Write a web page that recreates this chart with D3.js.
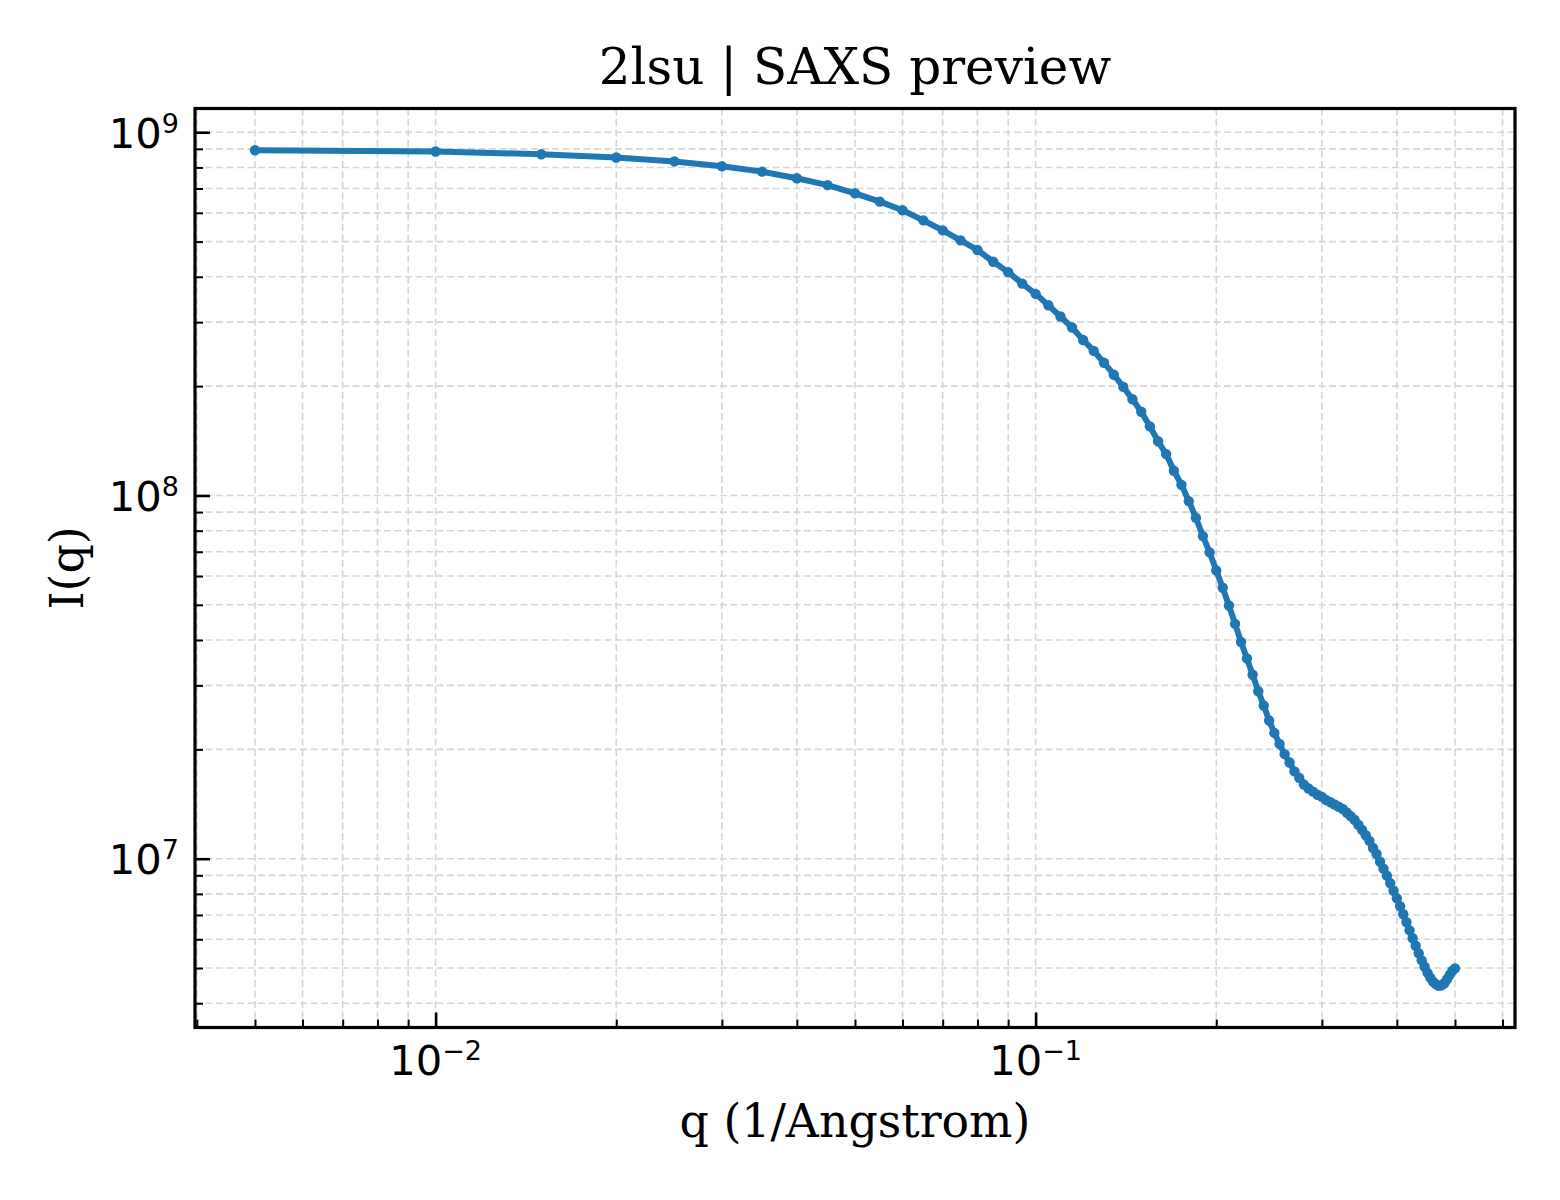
<!DOCTYPE html>
<html>
<head>
<meta charset="utf-8">
<script src="https://cdn.jsdelivr.net/npm/d3@7"></script>
<style>
  html, body { margin: 0; padding: 0; background: #fff; }
  svg { display: block; }
  .title, .axis-label { font-family: 'DejaVu Serif', serif; fill: #000; }
  .tick-label { font-family: 'DejaVu Sans', sans-serif; fill: #000; }
  .grid line { stroke: #d6d6d6; stroke-width: 1.6; stroke-dasharray: 7 3.5; }
  .ticks .domain { display: none; }
  .ticks line { stroke: #000; }
</style>
</head>
<body>
<svg id="chart" width="1560" height="1200"></svg>
<script>
/* ── DATA ───────────────────────────────────────────────────────────────────── */
const qValues = [
  0.005, 0.010, 0.015, 0.020, 0.025, 0.030, 0.035, 0.040, 0.045, 0.050,
  0.055, 0.060, 0.065, 0.070, 0.075, 0.080, 0.085, 0.090, 0.095, 0.100,
  0.105, 0.110, 0.115, 0.120, 0.125, 0.130, 0.135, 0.140, 0.145, 0.150,
  0.155, 0.160, 0.165, 0.170, 0.175, 0.180, 0.185, 0.190, 0.195, 0.200,
  0.205, 0.210, 0.215, 0.220, 0.225, 0.230, 0.235, 0.240, 0.245, 0.250,
  0.255, 0.260, 0.265, 0.270, 0.275, 0.280, 0.285, 0.290, 0.295, 0.300,
  0.305, 0.310, 0.315, 0.320, 0.325, 0.330, 0.335, 0.340, 0.345, 0.350,
  0.355, 0.360, 0.365, 0.370, 0.375, 0.380, 0.385, 0.390, 0.395, 0.400,
  0.405, 0.410, 0.415, 0.420, 0.425, 0.430, 0.435, 0.440, 0.445, 0.450,
  0.455, 0.460, 0.465, 0.470, 0.475, 0.480, 0.485, 0.490, 0.495, 0.500
];

const intensity = [
  8.92e8, 8.85e8, 8.70e8, 8.52e8, 8.31e8, 8.06e8, 7.79e8, 7.47e8, 7.15e8, 6.79e8,
  6.44e8, 6.10e8, 5.72e8, 5.37e8, 5.04e8, 4.74e8, 4.40e8, 4.12e8, 3.83e8, 3.59e8,
  3.34e8, 3.11e8, 2.90e8, 2.68e8, 2.50e8, 2.32e8, 2.15e8, 1.99e8, 1.84e8, 1.70e8,
  1.55e8, 1.41e8, 1.30e8, 1.17e8, 1.07e8, 9.65e7, 8.68e7, 7.73e7, 6.97e7, 6.22e7,
  5.57e7, 4.98e7, 4.43e7, 3.95e7, 3.56e7, 3.21e7, 2.89e7, 2.64e7, 2.40e7, 2.22e7,
  2.07e7, 1.94e7, 1.84e7, 1.74e7, 1.67e7, 1.60e7, 1.56e7, 1.53e7, 1.50e7, 1.48e7,
  1.45e7, 1.43e7, 1.41e7, 1.39e7, 1.37e7, 1.34e7, 1.31e7, 1.28e7, 1.24e7, 1.20e7,
  1.16e7, 1.12e7, 1.07e7, 1.03e7, 9.81e6, 9.39e6, 8.98e6, 8.56e6, 8.16e6, 7.78e6,
  7.40e6, 7.03e6, 6.69e6, 6.35e6, 6.04e6, 5.76e6, 5.49e6, 5.25e6, 5.04e6, 4.85e6,
  4.70e6, 4.58e6, 4.51e6, 4.47e6, 4.48e6, 4.54e6, 4.66e6, 4.79e6, 4.92e6, 4.99e6
];

const xMajorTicks = [0.01, 0.1];
const yMajorTicks = [1e7, 1e8, 1e9];

const TITLE   = '2lsu | SAXS preview';
const X_LABEL = 'q (1/Angstrom)';
const Y_LABEL = 'I(q)';

/* ── LAYOUT ─────────────────────────────────────────────────────────────────── */
const W = 1560, H = 1200;
const box = { left: 195, right: 1515, top: 108.5, bottom: 1027.5 };
const COLOR = '#1f77b4';

/* ── HELPERS ────────────────────────────────────────────────────────────────── */
// matplotlib-style 5% margin, in log space
function paddedLogDomain(vals) {
  const lo = Math.log10(d3.min(vals));
  const hi = Math.log10(d3.max(vals));
  const pad = (hi - lo) * 0.05;
  return [Math.pow(10, lo - pad), Math.pow(10, hi + pad)];
}

function minorTicks(scale) {
  const [a, b] = scale.domain();
  const out = [];
  for (let e = Math.floor(Math.log10(a)); e <= Math.ceil(Math.log10(b)); e++) {
    for (let m = 2; m <= 9; m++) {
      const v = +(m * Math.pow(10, e)).toPrecision(6);
      if (v >= a && v <= b) out.push(v);
    }
  }
  return out;
}

function exponent(v) {
  return Math.round(Math.log10(v));
}

function powLabel(sel) {
  sel.text('10');
  sel.append('tspan')
    .attr('dy', -15)
    .attr('font-size', 27)
    .text(d => String(exponent(d)).replace('-', '\u2212'));
}

/* ── SCALES ─────────────────────────────────────────────────────────────────── */
const x = d3.scaleLog().domain(paddedLogDomain(qValues)).range([box.left, box.right]);
const y = d3.scaleLog().domain(paddedLogDomain(intensity)).range([box.bottom, box.top]);

const xMinor = minorTicks(x);
const yMinor = minorTicks(y);

const svg = d3.select('#chart').attr('viewBox', `0 0 ${W} ${H}`);
svg.append('rect').attr('width', W).attr('height', H).attr('fill', '#fff');

/* ── GRID ───────────────────────────────────────────────────────────────────── */
const grid = svg.append('g').attr('class', 'grid');

grid.selectAll('.gx')
  .data(xMinor.concat(xMajorTicks))
  .join('line')
  .attr('x1', d => x(d)).attr('x2', d => x(d))
  .attr('y1', box.top).attr('y2', box.bottom);

grid.selectAll('.gy')
  .data(yMinor.concat(yMajorTicks))
  .join('line')
  .attr('x1', box.left).attr('x2', box.right)
  .attr('y1', d => y(d)).attr('y2', d => y(d));

/* ── CURVE ──────────────────────────────────────────────────────────────────── */
const points = qValues.map((q, i) => ({ q, I: intensity[i] }));

const line = d3.line()
  .x(d => x(d.q))
  .y(d => y(d.I));

svg.append('path')
  .datum(points)
  .attr('d', line)
  .attr('fill', 'none')
  .attr('stroke', COLOR)
  .attr('stroke-width', 6)
  .attr('stroke-linejoin', 'round')
  .attr('stroke-linecap', 'round');

svg.append('g')
  .selectAll('circle')
  .data(points)
  .join('circle')
  .attr('cx', d => x(d.q))
  .attr('cy', d => y(d.I))
  .attr('r', 5.2)
  .attr('fill', COLOR);

/* ── FRAME + TICKS ──────────────────────────────────────────────────────────── */
svg.append('rect')
  .attr('x', box.left).attr('y', box.top)
  .attr('width', box.right - box.left)
  .attr('height', box.bottom - box.top)
  .attr('fill', 'none')
  .attr('stroke', '#000')
  .attr('stroke-width', 3.2);

// ticks point inward, left and bottom only
function addTicks(axisFn, scale, values, size, width, transform) {
  const g = svg.append('g')
    .attr('class', 'ticks')
    .attr('transform', transform)
    .call(axisFn(scale).tickValues(values).tickSize(-size).tickFormat(''));
  g.selectAll('.tick line').attr('stroke-width', width);
  g.selectAll('.tick text').remove();
}

addTicks(d3.axisBottom, x, xMajorTicks, 15, 2.6, `translate(0,${box.bottom})`);
addTicks(d3.axisBottom, x, xMinor,       8, 2.0, `translate(0,${box.bottom})`);
addTicks(d3.axisLeft,   y, yMajorTicks, 15, 2.6, `translate(${box.left},0)`);
addTicks(d3.axisLeft,   y, yMinor,       8, 2.0, `translate(${box.left},0)`);

/* ── TICK LABELS ────────────────────────────────────────────────────────────── */
svg.append('g')
  .selectAll('text')
  .data(xMajorTicks)
  .join('text')
  .attr('class', 'tick-label')
  .attr('x', d => x(d))
  .attr('y', box.bottom + 47.5)
  .attr('text-anchor', 'middle')
  .attr('font-size', 41.7)
  .call(powLabel);

svg.append('g')
  .selectAll('text')
  .data(yMajorTicks)
  .join('text')
  .attr('class', 'tick-label')
  .attr('x', 179)
  .attr('y', d => y(d) + 15.5)
  .attr('text-anchor', 'end')
  .attr('font-size', 41.7)
  .call(powLabel);

/* ── TITLE + AXIS LABELS ────────────────────────────────────────────────────── */
const midX = (box.left + box.right) / 2;
const midY = (box.top + box.bottom) / 2;

svg.append('text')
  .attr('class', 'title')
  .attr('x', midX).attr('y', 84)
  .attr('text-anchor', 'middle')
  .attr('font-size', 50)
  .text(TITLE);

svg.append('text')
  .attr('class', 'axis-label')
  .attr('x', midX).attr('y', 1136.5)
  .attr('text-anchor', 'middle')
  .attr('font-size', 45.8)
  .text(X_LABEL);

svg.append('text')
  .attr('class', 'axis-label')
  .attr('transform', `translate(83,${midY}) rotate(-90)`)
  .attr('text-anchor', 'middle')
  .attr('font-size', 45.8)
  .text(Y_LABEL);
</script>
</body>
</html>
